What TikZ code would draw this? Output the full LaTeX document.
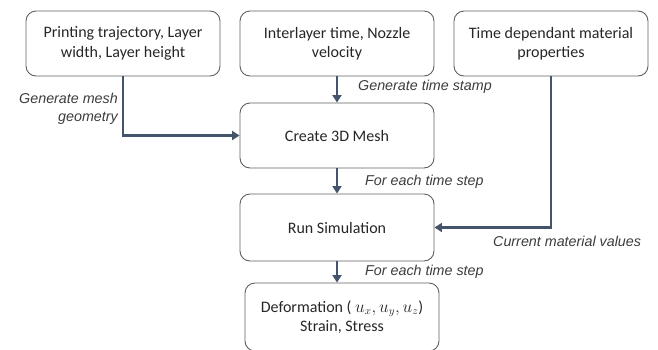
\documentclass[tikz,border=0pt]{standalone}
\usepackage{fontspec}
\setmainfont{Carlito}
\newfontfamily\lblfont{Liberation Sans}
\usetikzlibrary{arrows.meta}
\definecolor{boxline}{HTML}{5F5F5F}
\definecolor{flow}{HTML}{44546A}
\definecolor{ink}{HTML}{262626}
\tikzset{
  stepbox/.style={draw=boxline, line width=0.9pt, rounded corners=10pt,
    minimum width=194pt, minimum height=65pt, align=center, text=ink,
    font=\fontsize{16}{19.5}\selectfont, inner sep=2pt},
  flowarrow/.style={draw=flow, line width=2.4pt,
    -{Triangle[length=7.5pt,width=9pt]}},
  steplabel/.style={font=\lblfont\itshape\fontsize{14.3}{18}\selectfont,
    text=ink!90, inner sep=0pt},
}
\begin{document}
\begin{tikzpicture}[x=1pt,y=-1pt]
  \useasboundingbox (0,0) rectangle (658,349);
  \clip (0,0) rectangle (658,349);

  % inputs
  \node[stepbox] (traj) at (123,43.5) {Printing trajectory, Layer\\width, Layer height};
  \node[stepbox] (time) at (337,43.5) {Interlayer time, Nozzle\\velocity};
  \node[stepbox] (mat)  at (551,43.5) {Time dependant material\\properties};

  % processing chain
  \node[stepbox] (mesh) at (337,135.5) {Create 3D Mesh};
  \node[stepbox, minimum height=67pt] (sim) at (337,227.5) {Run Simulation};
  \node[stepbox, minimum height=68pt] (out) at (342,317)
    {Deformation ( $u_x, u_y, u_z$)\\Strain, Stress};

  % connectors
  \draw[flowarrow] (traj.south) |- (mesh.west);
  \draw[flowarrow] (time.south) -- (mesh.north);
  \draw[flowarrow] (mesh.south) -- (sim.north);
  \draw[flowarrow] (mat.south) |- (sim.east);
  \draw[flowarrow] (sim.south) -- (sim.south |- out.north);

  % connector labels
  \node[steplabel, anchor=east, align=right] (lmesh) at (118,109)
    {Generate mesh\\geometry};
  \node[steplabel, anchor=west] (lstamp) at (358,87) {Generate time stamp};
  \node[steplabel, anchor=west] (lstep1) at (365,182) {For each time step};
  \node[steplabel, anchor=west] (lcur) at (493,241) {Current material values};
  \node[steplabel, anchor=west] (lstep2) at (365,272) {For each time step};
\end{tikzpicture}
\end{document}
